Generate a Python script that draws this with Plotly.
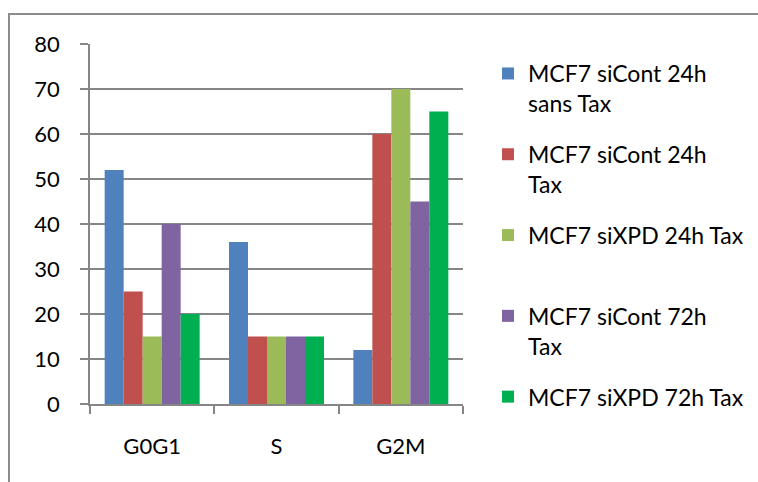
import plotly.graph_objects as go

# Cell-cycle phases and percentage of cells per condition
phases = ["G0G1", "S", "G2M"]
series_names = [
    "MCF7 siCont 24h<br>sans Tax",
    "MCF7 siCont 24h<br>Tax",
    "MCF7 siXPD 24h Tax<br> ",
    "MCF7 siCont 72h<br>Tax",
    "MCF7 siXPD 72h Tax<br> ",
]
siCont_24h_sans_tax = [52, 36, 12]
siCont_24h_tax = [25, 15, 60]
siXPD_24h_tax = [15, 15, 70]
siCont_72h_tax = [40, 15, 45]
siXPD_72h_tax = [20, 15, 65]
y_ticks = [0, 10, 20, 30, 40, 50, 60, 70, 80]

series_values = [siCont_24h_sans_tax, siCont_24h_tax, siXPD_24h_tax,
                 siCont_72h_tax, siXPD_72h_tax]
colors = ["#4F81BD", "#C0504D", "#9BBB59", "#8064A2", "#00B050"]

W, H = 758, 482
L, R, T, B = 90, 295, 44, 78
FONT = "Lato"

fig = go.Figure()
for i, (name, vals, col) in enumerate(zip(series_names, series_values, colors)):
    fig.add_trace(go.Bar(
        x=phases, y=vals, name=name, legendgroup=f"g{i}",
        marker=dict(color=col, line=dict(width=0)),
    ))

pw = W - L - R
ph = H - T - B
# outer chart frame (open towards the right and bottom edges)
fig.add_shape(
    type="rect", xref="paper", yref="paper",
    x0=(9 - L) / pw, x1=(W + 20 - L) / pw,
    y0=-(H + 20 - T - ph) / ph, y1=(H - B - 14) / ph,
    line=dict(color="#8C8C8C", width=2), fillcolor="rgba(0,0,0,0)",
    layer="below",
)

fig.update_layout(
    width=W, height=H,
    margin=dict(l=L, r=R, t=T, b=B, pad=0),
    paper_bgcolor="white", plot_bgcolor="white",
    barmode="group", bargap=0.236, bargroupgap=0,
    font=dict(family=FONT, size=22, color="#000000"),
    legend=dict(
        xref="container", yref="container",
        x=488 / W, y=1 - 52 / H, xanchor="left", yanchor="top",
        font=dict(family=FONT, size=23, color="#000000"),
        tracegroupgap=18, valign="top",
        bgcolor="rgba(0,0,0,0)", borderwidth=0,
        traceorder="grouped", maxheight=470,
    ),
    xaxis=dict(
        showline=True, linecolor="#868686", linewidth=1.5,
        ticks="outside", ticklen=8, tickcolor="#868686", tickwidth=1.5,
        tickson="boundaries", ticklabelstandoff=22,
        tickfont=dict(family=FONT, size=22, color="#000000"),
        showgrid=False, zeroline=False,
    ),
    yaxis=dict(
        range=[0, 80], tickvals=y_ticks,
        showline=True, linecolor="#868686", linewidth=1.5,
        ticks="outside", ticklen=8, tickcolor="#868686", tickwidth=1.5,
        ticklabelstandoff=16,
        tickfont=dict(family=FONT, size=22, color="#000000"),
        showgrid=True, gridcolor="#868686", gridwidth=1.5,
        zeroline=False,
    ),
)

fig.write_html("out.html")
